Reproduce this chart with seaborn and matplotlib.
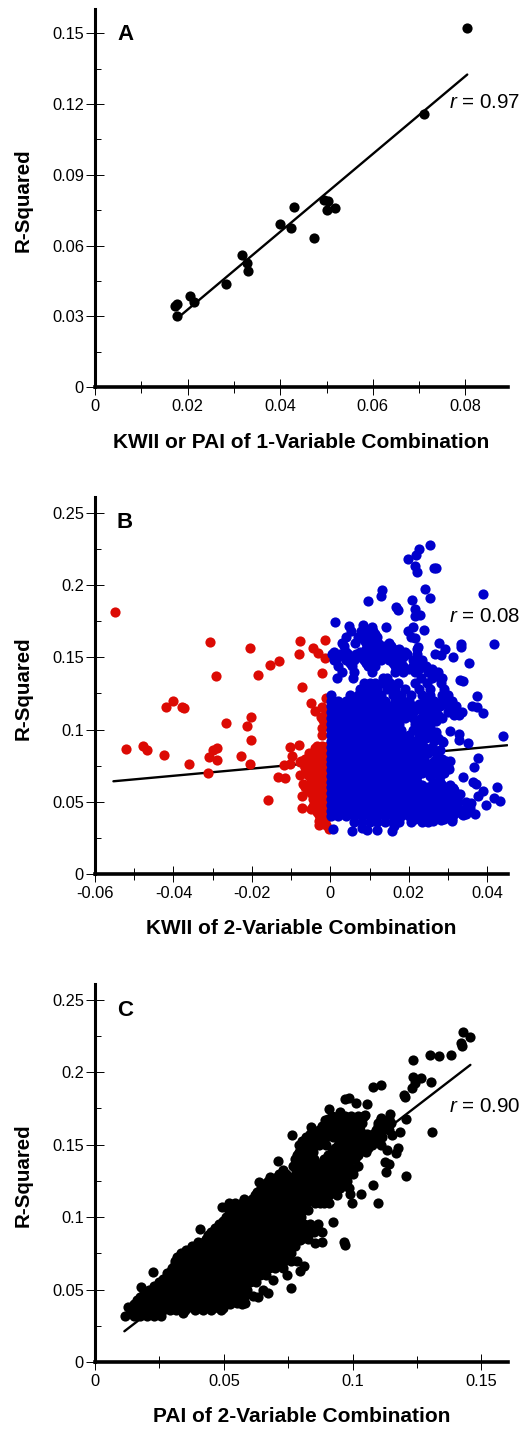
import matplotlib
matplotlib.use('Agg')
import matplotlib.pyplot as plt
import seaborn as sns
from matplotlib.ticker import FixedLocator

# Panel A
a_x = [.0804, .0711, .0430, .0504, .0494, .0519, .0501, .0400, .0424, .0473,
       .0317, .0328, .0330, .0283, .0206, .0214, .0178, .0172, .0178]
a_y = [.1523, .1158, .0763, .0790, .0794, .0758, .0751, .0692, .0675, .0633,
       .0560, .0525, .0491, .0437, .0388, .0359, .0352, .0344, .0300]
a_fit_x = [.0180, .0804]
a_fit_y = [.0295, .1325]

# Panel B, scattered red points
red_x = [-.0549, -.0307, -.0205, -.0077, -.0014, -.0081, -.0132, -.0154, -.0291, -.0185,
         -.0022, -.0073, -.0043, -.0031, -.0014, -.0400, -.0419, -.0379, -.0373, -.0267,
         -.0201, -.0213, -.0202, -.0520, -.0477, -.0468, -.0424, -.0361, -.0313, -.0309,
         -.0298, -.0288, -.0289, -.0227, -.0205, -.0160, -.0134, -.0115, -.0118, -.0103,
         -.0098, -.0103, -.0079, -.0077, -.0065, -.0077, -.0069, -.0073, -.0073, -.0050,
         -.0039, -.0022, -.0011, -.0018, -.0022, -.0020, -.0012, -.0025, -.0008]
red_y = [.1813, .1608, .1565, .1615, .1618, .1523, .1472, .1449, .1371, .1380,
         .1392, .1293, .1562, .1528, .1493, .1200, .1157, .1154, .1150, .1048,
         .1088, .1025, .0926, .0869, .0887, .0857, .0825, .0760, .0698, .0813,
         .0859, .0876, .0788, .0818, .0765, .0511, .0673, .0666, .0758, .0760,
         .0820, .0878, .0894, .0779, .0744, .0687, .0622, .0544, .0461, .1182,
         .1131, .1155, .1217, .1067, .1009, .0963, .1120, .1090, .1030]

# red points packed against zero, one list of KWII per R-squared level
red_rows = [
    (.089, [-.0035, -.0020, -.0005]),
    (.087, [-.0040, -.0025, -.0010]),
    (.084, [-.0055, -.0040, -.0025, -.0010]),
    (.082, [-.0045, -.0030, -.0015]),
    (.080, [-.0065, -.0040, -.0020]),
    (.078, [-.0075, -.0050, -.0030, -.0010]),
    (.076, [-.0060, -.0040, -.0020]),
    (.074, [-.0065, -.0040, -.0020]),
    (.072, [-.0050, -.0030, -.0010]),
    (.070, [-.0065, -.0045, -.0025]),
    (.068, [-.0055, -.0035, -.0015]),
    (.066, [-.0040, -.0020]),
    (.064, [-.0050, -.0030, -.0010]),
    (.062, [-.0055, -.0035, -.0015]),
    (.060, [-.0065, -.0040, -.0020]),
    (.058, [-.0055, -.0035, -.0015]),
    (.056, [-.0050, -.0030, -.0010]),
    (.054, [-.0035, -.0015]),
    (.052, [-.0045, -.0025]),
    (.050, [-.0035, -.0015]),
    (.048, [-.0040, -.0020]),
    (.047, [-.0045, -.0030, -.0010]),
    (.045, [-.0050, -.0030, -.0010]),
    (.043, [-.0035, -.0020, -.0010]),
    (.041, [-.0030, -.0010]),
    (.039, [-.0025, -.0010]),
    (.037, [-.0030, -.0015]),
    (.034, [-.0028, -.0010]),
    (.031, [-.0003]),
]

# Panel B, scattered blue points
blue_x = [.0254, .0225, .0218, .0197, .0216, .0220, .0264, .0269, .0132, .0128,
          .0097, .0242, .0254, .0209, .0388, .0167, .0172, .0216, .0216, .0228,
          .0011, .0141, .0048, .0084, .0105, .0211, .0199, .0239, .0205, .0216,
          .0418, .0334, .0334, .0276, .0292, .0267, .0282, .0313, .0353, .0224,
          .0330, .0338, .0375, .0360, .0373, .0390, .0328, .0441, .0306, .0328,
          .0328, .0350, .0286, .0269, .0377, .0367, .0302, .0337, .0364, .0372,
          .0424, .0388, .0377, .0418, .0433, .0397, .0358, .0330, .0313, .0343,
          .0369, .0339, .0309, .0313, .0008, .0055, .0080, .0093, .0120, .0158,
          .0163, .0246, .0283, .0261]
blue_y = [.2278, .2250, .2208, .2179, .2130, .2087, .2119, .2114, .1964, .1921,
          .1886, .1969, .1911, .1897, .1935, .1849, .1824, .1831, .1785, .1790,
          .1743, .1711, .1714, .1721, .1707, .1707, .1679, .1686, .1642, .1631,
          .1589, .1589, .1571, .1596, .1555, .1520, .1518, .1500, .1462, .1569,
          .1341, .1338, .1230, .1165, .1158, .1117, .1101, .0958, .0988, .0967,
          .0926, .0909, .0912, .0985, .0801, .0744, .0726, .0670, .0640, .0622,
          .0601, .0574, .0539, .0525, .0504, .0481, .0495, .0553, .0594, .0442,
          .0415, .0408, .0368, .0456, .0310, .0297, .0318, .0304, .0304, .0301,
          .0333, .0370, .0375, .0368]

# blue points of the upper band and the dense block
blue_rows = [
    (.168, [.0052, .0078, .0092, .0108]),
    (.166, [.0080, .0100, .0115]),
    (.164, [.0040, .0070, .0090, .0110, .0118]),
    (.162, [.0085, .0100, .0115]),
    (.160, [.0030, .0062, .0090, .0105, .0122, .0150]),
    (.158, [.0035, .0095, .0115, .0135, .0155]),
    (.156, [.0090, .0105, .0125, .0145, .0160, .0175, .0220]),
    (.154, [.0010, .0040, .0075, .0100, .0120, .0150, .0170, .0190]),
    (.152, [.0005, .0025, .0045, .0065, .0090, .0110, .0135, .0155, .0175, .0195, .0220]),
    (.150, [.0020, .0050, .0075, .0095, .0120, .0145, .0165, .0185]),
    (.148, [.0010, .0040, .0060, .0085, .0105, .0130, .0150, .0170, .0210, .0235]),
    (.146, [.0050, .0090, .0110, .0160, .0180, .0220]),
    (.144, [.0020, .0055, .0095, .0115, .0165, .0185, .0210, .0225, .0245]),
    (.142, [.0180, .0200, .0225, .0260]),
    (.140, [.0030, .0060, .0105, .0165, .0185, .0215, .0250, .0275]),
    (.136, [.0018, .0059, .0135, .0145, .0230, .0260, .0280, .0285]),
    (.132, [.0085, .0100, .0115, .0135, .0152, .0173, .0216, .0247, .0283]),
    (.128, [.0075, .0090, .0105, .0120, .0145, .0165, .0190, .0225, .0255, .0290]),
    (.124, [.0002, .0050, .0070, .0085, .0100, .0115, .0130, .0160, .0180, .0205, .0235, .0255, .0285, .0300]),
    (.120, [.0002, .0020, .0040, .0060, .0080, .0100, .0120, .0140, .0165, .0185, .0200, .0245, .0265, .0285, .0310]),
    (.118, [.0225, .0260, .0295]),
    (.116, [.0002, .0010, .0030, .0050, .0070, .0090, .0110, .0130, .0150, .0170, .0190, .0210, .0240, .0260, .0280, .0300, .0320]),
    (.114, [.0225, .0265, .0315]),
    (.112, [.0002, .0020, .0040, .0060, .0080, .0100, .0120, .0140, .0160, .0180, .0200, .0210, .0250, .0270, .0300, .0335]),
    (.110, [.0245, .0275, .0315]),
    (.108, [.0002, .0010, .0030, .0050, .0070, .0090, .0110, .0130, .0150, .0170, .0190, .0210, .0230, .0240, .0265, .0285]),
    (.106, [.0245, .0270]),
    (.104, [.0002, .0020, .0040, .0060, .0080, .0100, .0120, .0140, .0160, .0175, .0215, .0235, .0250]),
    (.102, [.0225, .0255]),
    (.100, [.0002, .0010, .0030, .0050, .0070, .0090, .0110, .0130, .0150, .0170, .0180, .0210, .0230, .0250]),
    (.096, [.0002, .0020, .0040, .0060, .0080, .0100, .0120, .0140, .0160, .0180, .0200, .0225, .0240, .0265]),
    (.094, [.0245, .0275]),
    (.092, [.0002, .0010, .0030, .0050, .0070, .0090, .0110, .0130, .0150, .0170, .0190, .0210, .0225, .0265, .0285]),
    (.088, [.0002, .0020, .0040, .0060, .0080, .0100, .0120, .0140, .0160, .0180, .0200, .0220, .0240, .0260]),
    (.086, [.0265, .0280]),
    (.084, [.0002, .0010, .0030, .0050, .0070, .0090, .0110, .0130, .0150, .0170, .0190, .0210, .0230, .0250, .0270]),
    (.080, [.0002, .0020, .0040, .0060, .0080, .0100, .0120, .0140, .0160, .0180, .0200, .0220, .0240, .0285]),
    (.078, [.0265, .0295, .0305]),
    (.076, [.0002, .0010, .0030, .0050, .0070, .0090, .0110, .0130, .0150, .0170, .0190, .0210, .0230, .0250, .0270, .0285]),
    (.074, [.0270, .0300]),
    (.072, [.0002, .0020, .0040, .0060, .0080, .0100, .0120, .0140, .0160, .0180, .0200, .0220, .0240, .0260, .0285]),
    (.070, [.0235, .0265, .0290]),
    (.068, [.0002, .0010, .0030, .0050, .0070, .0090, .0110, .0130, .0150, .0170, .0190, .0210, .0220, .0255, .0280]),
    (.064, [.0002, .0020, .0040, .0060, .0080, .0100, .0120, .0140, .0160, .0180, .0200, .0220, .0262, .0280]),
    (.062, [.0235, .0265, .0285, .0305]),
    (.060, [.0002, .0010, .0030, .0050, .0070, .0090, .0110, .0130, .0150, .0170, .0190, .0210, .0230, .0250, .0270, .0285]),
    (.058, [.0275, .0295, .0315]),
    (.056, [.0002, .0020, .0040, .0060, .0080, .0100, .0120, .0140, .0160, .0180, .0200, .0220, .0240, .0260, .0280, .0300]),
    (.054, [.0285, .0305, .0325]),
    (.052, [.0002, .0010, .0030, .0050, .0070, .0090, .0110, .0130, .0150, .0170, .0190, .0210, .0230, .0250, .0270, .0290, .0310]),
    (.050, [.0305, .0325, .0345]),
    (.048, [.0002, .0020, .0040, .0060, .0080, .0100, .0120, .0140, .0160, .0180, .0200, .0220, .0240, .0260, .0280, .0300, .0320]),
    (.046, [.0305, .0325, .0345, .0355]),
    (.044, [.0002, .0010, .0030, .0050, .0070, .0090, .0110, .0130, .0150, .0170, .0190, .0210, .0230, .0250, .0270, .0290, .0310]),
    (.042, [.0275, .0295, .0315, .0335, .0345]),
    (.040, [.0002, .0020, .0040, .0060, .0080, .0100, .0120, .0140, .0160, .0180, .0200, .0220, .0240, .0260, .0285]),
    (.038, [.0215, .0265, .0290, .0310]),
    (.036, [.0060, .0080, .0100, .0120, .0140, .0160, .0175, .0205, .0235, .0250]),
]
b_fit_x = [-.0553, .0451]
b_fit_y = [.0643, .0892]

# Panel C, scattered points
c_x = [.1429, .1457, .1421, .1426, .1380, .1336, .1302, .1236, .1234, .1267,
       .1306, .1241, .1232, .1200, .1203, .1080, .1112, .0970, .0985, .1012,
       .1054, .0909, .0950, .1047, .0892, .0840, .0763, .1309, .1206, .1144,
       .1112, .1183, .1151, .1112, .1134, .1177, .1170, .1125, .1142, .1131,
       .1209, .1080, .1099, .0996, .1034, .0989, .0925, .0966, .0970, .0883,
       .0853, .0860, .0795, .0811, .0795, .0759, .0744, .0692, .0672, .0634,
       .0614, .0653, .0582, .0550, .0498, .0459, .0407, .0343, .0491, .0407,
       .0636, .0711, .0226, .0278, .0180, .0129, .0116, .0162]
c_y = [.2275, .2245, .2199, .2178, .2118, .2109, .2121, .2084, .1967, .1957,
       .1934, .1923, .1888, .1842, .1826, .1895, .1909, .1812, .1824, .1789,
       .1780, .1743, .1723, .1704, .1670, .1619, .1566, .1589, .1674, .1709,
       .1681, .1589, .1566, .1497, .1463, .1474, .1444, .1382, .1366, .1313,
       .1286, .1219, .1099, .1099, .1159, .1159, .0964, .0830, .0807, .0830,
       .0819, .0922, .0842, .0665, .0628, .0508, .0600, .0566, .0474, .0451,
       .0455, .0497, .0405, .0409, .0370, .0370, .0370, .0336, .1067, .0918,
       .1244, .1389, .0619, .0612, .0515, .0377, .0320, .0428]

# dense body of panel C, one list of PAI per R-squared level
c_rows = [
    (.170, [.0920, .0945, .0970, .0995, .1020, .1045]),
    (.1675, [.0905, .0930, .0960, .0985, .1010, .1035, .1110, .1140]),
    (.165, [.0895, .0920, .0945, .0985, .1010, .1035, .1100, .1125, .1150]),
    (.1625, [.0880, .0910, .0935, .0960, .0990, .1015, .1100, .1130]),
    (.160, [.0870, .0895, .0925, .0950, .0975, .1005, .1030, .1090, .1115, .1140]),
    (.1575, [.0835, .0860, .0885, .0910, .0940, .0965, .1000, .1025, .1055, .1080, .1105]),
    (.155, [.0820, .0845, .0870, .0895, .0925, .0950, .0990, .1015, .1040, .1065, .1090, .1115]),
    (.1525, [.0805, .0830, .0860, .0885, .0955, .0985, .1010, .1040, .1065, .1090]),
    (.150, [.0790, .0815, .0845, .0870, .0895, .0945, .0970, .1000, .1025, .1050, .1075]),
    (.1475, [.0800, .0830, .0930, .0960, .0990, .1015, .1040, .1060]),
    (.145, [.0790, .0820, .0845, .0920, .0945, .0975, .1000, .1025, .1050]),
    (.1425, [.0785, .0810, .0835, .0905, .0935, .0970, .0995, .1020]),
    (.140, [.0775, .0800, .0825, .0850, .0890, .0925, .0960, .0985, .1010]),
    (.1375, [.0780, .0805, .0830, .0855, .0880, .0915, .0945, .0970]),
    (.135, [.0770, .0795, .0820, .0845, .0870, .0900, .0930, .0960, .0985, .1020]),
    (.1325, [.0730, .0780, .0805, .0830, .0855, .0880, .0905, .0935, .0965, .1000]),
    (.130, [.0715, .0740, .0790, .0815, .0840, .0865, .0890, .0915, .0945, .0975, .1000]),
    (.1275, [.0680, .0705, .0730, .0760, .0785, .0810, .0835, .0860, .0885, .0910, .0935, .0965]),
    (.125, [.0670, .0695, .0720, .0745, .0770, .0800, .0825, .0850, .0875, .0900, .0925, .0950, .0980]),
    (.1225, [.0655, .0680, .0705, .0730, .0755, .0780, .0810, .0835, .0860, .0885, .0910, .0935, .0965]),
    (.120, [.0645, .0670, .0695, .0720, .0745, .0770, .0795, .0820, .0845, .0875, .0900, .0925, .0950, .0985]),
    (.1175, [.0630, .0660, .0685, .0710, .0735, .0760, .0785, .0815, .0845, .0870, .0895, .0925]),
    (.115, [.0620, .0650, .0675, .0700, .0725, .0750, .0775, .0800, .0830, .0860, .0885, .0910, .0940]),
    (.1125, [.0580, .0610, .0635, .0660, .0685, .0710, .0735, .0760, .0785, .0810, .0840, .0865, .0895]),
    (.110, [.0520, .0545, .0570, .0595, .0620, .0645, .0670, .0695, .0720, .0745, .0770, .0795, .0820, .0855, .0875, .0890, .0910]),
    (.1075, [.0535, .0560, .0585, .0610, .0635, .0660, .0685, .0710, .0735, .0760, .0785, .0810]),
    (.105, [.0525, .0550, .0575, .0600, .0625, .0650, .0675, .0700, .0725, .0750, .0775, .0800, .0825]),
    (.1025, [.0520, .0545, .0570, .0595, .0620, .0645, .0670, .0695, .0720, .0745, .0770, .0800]),
    (.100, [.0510, .0535, .0560, .0585, .0610, .0635, .0660, .0685, .0710, .0735, .0760, .0785, .0800]),
    (.0975, [.0495, .0520, .0545, .0570, .0595, .0620, .0645, .0670, .0695, .0720, .0745, .0770, .0795]),
    (.095, [.0480, .0505, .0530, .0555, .0580, .0605, .0630, .0655, .0680, .0705, .0730, .0755, .0780, .0810, .0835, .0865]),
    (.0925, [.0465, .0490, .0515, .0540, .0565, .0590, .0615, .0640, .0665, .0690, .0715, .0740, .0765, .0790, .0820]),
    (.090, [.0450, .0475, .0500, .0525, .0550, .0575, .0600, .0625, .0650, .0675, .0700, .0725, .0750, .0775, .0800, .0825, .0850, .0880]),
    (.0875, [.0440, .0465, .0490, .0515, .0540, .0565, .0590, .0615, .0640, .0665, .0690, .0715, .0740, .0765, .0790, .0815]),
    (.085, [.0430, .0455, .0480, .0505, .0530, .0555, .0580, .0605, .0630, .0655, .0680, .0705, .0730, .0755, .0780, .0800, .0825]),
    (.0825, [.0400, .0425, .0450, .0475, .0500, .0525, .0550, .0575, .0600, .0625, .0650, .0675, .0700, .0725, .0750, .0775]),
    (.080, [.0375, .0400, .0425, .0450, .0475, .0500, .0525, .0550, .0575, .0600, .0625, .0650, .0675, .0700, .0725, .0750, .0775]),
    (.0775, [.0355, .0380, .0405, .0430, .0455, .0480, .0505, .0530, .0555, .0580, .0605, .0630, .0655, .0680, .0705, .0730, .0755]),
    (.075, [.0335, .0360, .0385, .0410, .0435, .0460, .0485, .0510, .0535, .0560, .0585, .0610, .0635, .0660, .0685, .0710, .0735, .0760]),
    (.0725, [.0320, .0345, .0370, .0395, .0420, .0445, .0470, .0495, .0520, .0545, .0570, .0595, .0620, .0645, .0670, .0695, .0720, .0745]),
    (.070, [.0310, .0335, .0360, .0385, .0410, .0435, .0460, .0485, .0510, .0535, .0560, .0585, .0610, .0635, .0660, .0685, .0710, .0735, .0760, .0785]),
    (.0675, [.0310, .0335, .0360, .0385, .0410, .0435, .0460, .0485, .0510, .0535, .0560, .0585, .0610, .0635, .0660, .0685, .0710]),
    (.065, [.0300, .0325, .0350, .0375, .0400, .0425, .0450, .0475, .0500, .0525, .0550, .0575, .0600, .0625, .0650, .0675, .0700, .0730]),
    (.0625, [.0295, .0320, .0345, .0370, .0395, .0420, .0445, .0470, .0495, .0520, .0545, .0570, .0595, .0620, .0650]),
    (.060, [.0285, .0310, .0335, .0360, .0385, .0410, .0435, .0460, .0485, .0510, .0535, .0560, .0585, .0610, .0640, .0665]),
    (.0575, [.0265, .0290, .0315, .0340, .0365, .0390, .0415, .0440, .0465, .0490, .0515, .0540, .0565, .0590, .0615]),
    (.055, [.0250, .0275, .0300, .0325, .0350, .0375, .0400, .0425, .0450, .0475, .0500, .0525, .0550, .0575, .0600, .0625]),
    (.0525, [.0230, .0255, .0280, .0305, .0330, .0355, .0380, .0405, .0430, .0455, .0480, .0505, .0530, .0555, .0580]),
    (.050, [.0210, .0235, .0260, .0285, .0310, .0335, .0360, .0385, .0410, .0435, .0460, .0485, .0510, .0535, .0560, .0590]),
    (.0475, [.0190, .0215, .0240, .0265, .0290, .0315, .0340, .0365, .0390, .0415, .0440, .0465, .0490, .0515, .0540, .0565]),
    (.045, [.0175, .0200, .0225, .0250, .0275, .0300, .0325, .0350, .0375, .0400, .0425, .0450, .0475, .0500, .0525, .0550, .0580]),
    (.0425, [.0165, .0190, .0215, .0240, .0265, .0290, .0315, .0340, .0365, .0390, .0415, .0440, .0465, .0490, .0515, .0540]),
    (.040, [.0150, .0175, .0200, .0225, .0250, .0275, .0300, .0325, .0350, .0375, .0400, .0425, .0450, .0475, .0500, .0525, .0570]),
    (.038, [.0155, .0180, .0205, .0230, .0255, .0280, .0305, .0335, .0365, .0405, .0435, .0470]),
    (.036, [.0140, .0165, .0190, .0215, .0240, .0265, .0290, .0315, .0350, .0390, .0420, .0450, .0490]),
    (.032, [.0150, .0175, .0200, .0230, .0255]),
]
c_fit_x = [.0114, .1457]
c_fit_y = [.0212, .2050]

# Axis ticks and labels
a_xticks = [0, .02, .04, .06, .08]
a_xlabels = ['0', '0.02', '0.04', '0.06', '0.08']
a_xminor = [.01, .03, .05, .07]
a_yticks = [0, .03, .06, .09, .12, .15]
a_ylabels = ['0', '0.03', '0.06', '0.09', '0.12', '0.15']
a_yminor = [.015, .045, .075, .105, .135]
b_xticks = [-.06, -.04, -.02, 0, .02, .04]
b_xlabels = ['-0.06', '-0.04', '-0.02', '0', '0.02', '0.04']
b_xminor = [-.05, -.03, -.01, .01, .03]
c_xticks = [0, .05, .1, .15]
c_xlabels = ['0', '0.05', '0.1', '0.15']
c_xminor = [.025, .075, .125]
bc_yticks = [0, .05, .1, .15, .2, .25]
bc_ylabels = ['0', '0.05', '0.1', '0.15', '0.2', '0.25']
bc_yminor = [.025, .075, .125, .175, .225]

BLUE = '#0000CC'
RED = '#DC0A04'
W, H = 522, 1429
MARK = 54

sns.set_style('ticks')
plt.rcParams['font.family'] = ['Liberation Sans', 'DejaVu Sans']
plt.rcParams['text.color'] = 'black'
plt.rcParams['mathtext.fontset'] = 'custom'
plt.rcParams['mathtext.rm'] = 'Liberation Sans'
plt.rcParams['mathtext.it'] = 'Liberation Sans:italic'


def unpack(rows):
    xs, ys = [], []
    for level, values in rows:
        xs += values
        ys += [level] * len(values)
    return xs, ys


def make_axes(fig, top, bottom, xlim, ylim):
    ax = fig.add_axes([95 / W, 1 - bottom / H, 413 / W, (bottom - top) / H])
    ax.set_xlim(*xlim)
    ax.set_ylim(*ylim)
    return ax


def dress(fig, ax, xticks, xlabels, xminor, yticks, ylabels, yminor, xlabel, letter, r_text, label_y, ylabel_y, letter_y, r_y):
    sns.despine(ax=ax)
    ax.spines['left'].set_linewidth(2.2)
    ax.spines['left'].set_color('black')
    ax.spines['bottom'].set_linewidth(2.6)
    ax.spines['bottom'].set_color('black')
    ax.set_xticks(xticks)
    ax.set_xticklabels(xlabels)
    ax.set_yticks(yticks)
    ax.set_yticklabels(ylabels)
    ax.xaxis.set_minor_locator(FixedLocator(xminor))
    ax.yaxis.set_minor_locator(FixedLocator(yminor))
    ax.tick_params(axis='x', which='major', direction='inout', length=11, width=.7, labelsize=11.8, pad=3, colors='black')
    ax.tick_params(axis='x', which='minor', direction='inout', length=9, width=.7, colors='black')
    ax.tick_params(axis='y', which='major', direction='inout', length=13, width=.7, labelsize=11.8, pad=1.5, colors='black')
    ax.tick_params(axis='y', which='minor', direction='in', length=4.5, width=.7, colors='black')
    ax.set_xlabel('')
    ax.set_ylabel('')
    fig.text(301.5 / W, 1 - label_y / H, xlabel, fontsize=15, fontweight='bold', ha='center', va='center')
    fig.text(23 / W, 1 - ylabel_y / H, 'R-Squared', fontsize=14.8, fontweight='bold', rotation=90, ha='center', va='center')
    fig.text(125 / W, 1 - letter_y / H, letter, fontsize=16, fontweight='bold', ha='center', va='center')
    fig.text(449 / W, 1 - r_y / H, r_text, fontsize=14.8, ha='left', va='center')


fig = plt.figure(figsize=(W / 100, H / 100), dpi=100)

# A
ax_a = make_axes(fig, 9, 387, (0, .0892), (0, .1603))
sns.lineplot(x=a_fit_x, y=a_fit_y, color='black', linewidth=1.7, ax=ax_a, zorder=1)
sns.scatterplot(x=a_x, y=a_y, color='black', s=MARK, linewidth=0, ax=ax_a, zorder=2)
dress(fig, ax_a, a_xticks, a_xlabels, a_xminor, a_yticks, a_ylabels, a_yminor,
      'KWII or PAI of 1-Variable Combination', 'A', r'$\mathit{r}$ = 0.97', 442.5, 200, 35, 103)

# B
ax_b = make_axes(fig, 496.7, 874.3, (-.06, .0453), (0, .261))
sns.lineplot(x=b_fit_x, y=b_fit_y, color='black', linewidth=1.7, ax=ax_b, zorder=1)
red_dense_x, red_dense_y = unpack(red_rows)
blue_dense_x, blue_dense_y = unpack(blue_rows)
sns.scatterplot(x=red_x + red_dense_x, y=red_y + red_dense_y, color=RED, s=MARK, linewidth=0, ax=ax_b, zorder=2)
sns.scatterplot(x=blue_x + blue_dense_x, y=blue_y + blue_dense_y, color=BLUE, s=MARK, linewidth=0, ax=ax_b, zorder=3)
dress(fig, ax_b, b_xticks, b_xlabels, b_xminor, bc_yticks, bc_ylabels, bc_yminor,
      'KWII of 2-Variable Combination', 'B', r'$\mathit{r}$ = 0.08', 929, 688, 522, 617)

# C
ax_c = make_axes(fig, 984, 1362, (0, .1603), (0, .2608))
sns.lineplot(x=c_fit_x, y=c_fit_y, color='black', linewidth=1.7, ax=ax_c, zorder=1)
c_dense_x, c_dense_y = unpack(c_rows)
sns.scatterplot(x=c_x + c_dense_x, y=c_y + c_dense_y, color='black', s=MARK, linewidth=0, ax=ax_c, zorder=2)
dress(fig, ax_c, c_xticks, c_xlabels, c_xminor, bc_yticks, bc_ylabels, bc_yminor,
      'PAI of 2-Variable Combination', 'C', r'$\mathit{r}$ = 0.90', 1417, 1175, 1010, 1106)

fig.savefig('out.png', dpi=100)
